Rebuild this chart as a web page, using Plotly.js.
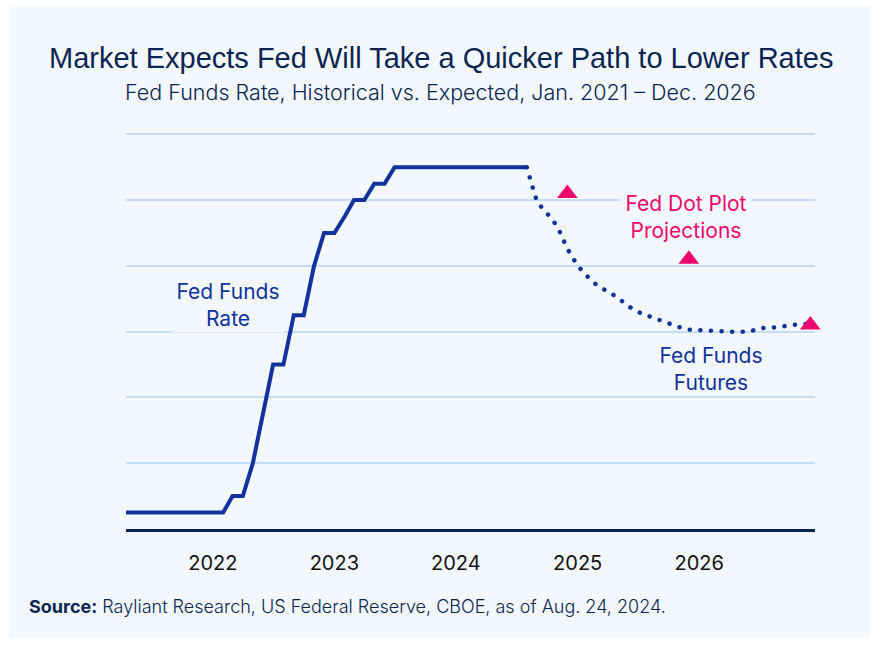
<!DOCTYPE html>
<html>
<head>
<meta charset="utf-8">
<script src="https://cdn.plot.ly/plotly-3.0.1.min.js"></script>
<style>
  html, body { margin: 0; padding: 0; background: #ffffff; }
  #chart { width: 878px; height: 647px; }
</style>
</head>
<body>
<div id="chart"></div>
<script>
// ---- Data ----
// Fed funds target rate (upper bound, %), monthly, Jan 2021 – Aug 2024
const rateDates = [
  '2021-01-01','2021-02-01','2021-03-01','2021-04-01','2021-05-01','2021-06-01',
  '2021-07-01','2021-08-01','2021-09-01','2021-10-01','2021-11-01','2021-12-01',
  '2022-01-01','2022-02-01','2022-03-01','2022-04-01','2022-05-01','2022-06-01',
  '2022-07-01','2022-08-01','2022-09-01','2022-10-01','2022-11-01','2022-12-01',
  '2023-01-01','2023-02-01','2023-03-01','2023-04-01','2023-05-01','2023-06-01',
  '2023-07-01','2023-08-01','2023-09-01','2023-10-01','2023-11-01','2023-12-01',
  '2024-01-01','2024-02-01','2024-03-01','2024-04-01','2024-05-01','2024-06-01',
  '2024-07-01','2024-08-01'
];
const rateValues = [
  0.25,0.25,0.25,0.25,0.25,0.25,0.25,0.25,0.25,0.25,0.25,0.25,
  0.25,0.25,0.50,0.50,1.00,1.75,2.50,2.50,3.25,3.25,4.00,4.50,
  4.50,4.75,5.00,5.00,5.25,5.25,5.50,5.50,5.50,5.50,5.50,5.50,
  5.50,5.50,5.50,5.50,5.50,5.50,5.50,5.50
];

// Fed funds futures implied path (%), Aug 2024 – Dec 2026
const futuresDates = [
  '2024-08-01','2024-09-01','2024-10-01','2024-11-01','2024-12-01',
  '2025-01-01','2025-02-01','2025-03-01','2025-04-01','2025-05-01','2025-06-01',
  '2025-07-01','2025-08-01','2025-09-01','2025-10-01','2025-11-01','2025-12-01',
  '2026-01-01','2026-02-01','2026-03-01','2026-04-01','2026-05-01','2026-06-01',
  '2026-07-01','2026-08-01','2026-09-01','2026-10-01','2026-11-01','2026-12-01'
];
const futuresValues = [
  5.50,4.97,4.80,4.60,4.26,
  4.00,3.83,3.70,3.61,3.52,3.39,
  3.30,3.24,3.18,3.13,3.07,3.03,
  3.02,3.01,3.00,3.00,3.00,3.00,
  3.05,3.06,3.07,3.10,3.11,3.12
];

// Fed dot plot median projections (%), year-end
const dotDates = ['2024-12-01','2025-12-01','2026-12-01'];
const dotValues = [5.1, 4.1, 3.1];

// Axis tick labels
const tickDates = ['2022-01-01','2023-01-01','2024-01-01','2025-01-01','2026-01-01'];
const tickLabels = ['2022','2023','2024','2025','2026'];

// ---- Styles ----
const NAVY = '#0b2552';
const BLUE = '#12329e';
const PINK = '#f0066e';
const PANEL = '#f3f8ff';
const GRID = '#c5dcf7';

// plot-area pixel geometry helpers (for paper-referenced text placement)
const PL = 126, PR = 815, PT = 131, PB = 529;
const px = x => (x - PL) / (PR - PL);
const py = y => (PB - y) / (PB - PT);

const traces = [
  {
    x: rateDates, y: rateValues, type: 'scatter', mode: 'lines',
    line: { color: BLUE, width: 4 }, hoverinfo: 'skip', cliponaxis: true
  },
  {
    x: futuresDates, y: futuresValues, type: 'scatter', mode: 'lines',
    line: { color: BLUE, width: 4.5, dash: '0.1px,10.5px' }, hoverinfo: 'skip',
    cliponaxis: false
  },
  {
    x: dotDates, y: dotValues, type: 'scatter', mode: 'markers',
    marker: { symbol: 'triangle-up', size: 18, color: PINK }, hoverinfo: 'skip',
    cliponaxis: false
  }
];

const annFont = { family: 'Inter, "Open Sans", sans-serif', size: 21 };

const layout = {
  width: 878, height: 647,
  margin: { l: PL, r: 878 - PR, t: PT, b: 647 - PB, pad: 0 },
  paper_bgcolor: '#ffffff',
  plot_bgcolor: 'rgba(0,0,0,0)',
  showlegend: false,
  xaxis: {
    type: 'date',
    range: ['2021-04-15', '2026-12-15'],
    tickmode: 'array', tickvals: tickDates, ticktext: tickLabels,
    ticks: '', showgrid: false, zeroline: false,
    showline: true, linecolor: NAVY, linewidth: 2.5,
    tickfont: { family: 'Inter, sans-serif', size: 20, color: '#111111' },
    ticklabelstandoff: 14
  },
  yaxis: {
    range: [0, 6.05], tick0: 0, dtick: 1,
    showticklabels: false, ticks: '',
    showgrid: true, gridcolor: GRID, gridwidth: 2,
    zeroline: false, showline: false
  },
  shapes: [
    { type: 'rect', xref: 'paper', yref: 'paper', layer: 'below',
      x0: px(9), x1: px(869), y0: py(638), y1: py(6),
      fillcolor: PANEL, line: { width: 0 } }
  ],
  annotations: [
    { xref: 'paper', yref: 'paper', x: px(441), y: py(58), xanchor: 'center', yanchor: 'middle',
      text: 'Market Expects Fed Will Take a Quicker Path to Lower Rates', showarrow: false,
      font: { family: '"Liberation Sans", Arial, sans-serif', size: 29, color: NAVY } },
    { xref: 'paper', yref: 'paper', x: px(440), y: py(92), xanchor: 'center', yanchor: 'middle',
      text: 'Fed Funds Rate, Historical vs. Expected, Jan. 2021 – Dec. 2026', showarrow: false,
      font: { family: 'Inter, sans-serif', size: 21.5, color: NAVY, weight: 300 } },
    { xref: 'paper', yref: 'paper', x: px(27), y: py(606), xanchor: 'left', yanchor: 'middle',
      text: '<b>Source:</b> Rayliant Research, US Federal Reserve, CBOE, as of Aug. 24, 2024.', showarrow: false,
      font: { family: 'Inter, sans-serif', size: 18, color: NAVY, weight: 300 } },
    { xref: 'paper', yref: 'paper', x: px(228), y: py(305), xanchor: 'center', yanchor: 'middle',
      text: 'Fed Funds<br>Rate', showarrow: false, width: 110, height: 52,
      bgcolor: PANEL, font: Object.assign({ color: BLUE }, annFont) },
    { xref: 'paper', yref: 'paper', x: px(686), y: py(217), xanchor: 'center', yanchor: 'middle',
      text: 'Fed Dot Plot<br>Projections', showarrow: false, width: 128, height: 56,
      bgcolor: PANEL, font: Object.assign({ color: PINK }, annFont) },
    { xref: 'paper', yref: 'paper', x: px(711), y: py(369), xanchor: 'center', yanchor: 'middle',
      text: 'Fed Funds<br>Futures', showarrow: false, width: 110, height: 50,
      bgcolor: PANEL, font: Object.assign({ color: BLUE }, annFont) }
  ]
};

Plotly.newPlot('chart', traces, layout, { staticPlot: true, displayModeBar: false }).then(gd => {
  // round the dash caps so the projected path renders as dots
  const paths = gd.querySelectorAll('.scatterlayer .trace path.js-line');
  if (paths[1]) paths[1].style.strokeLinecap = 'round';
});
</script>
</body>
</html>
